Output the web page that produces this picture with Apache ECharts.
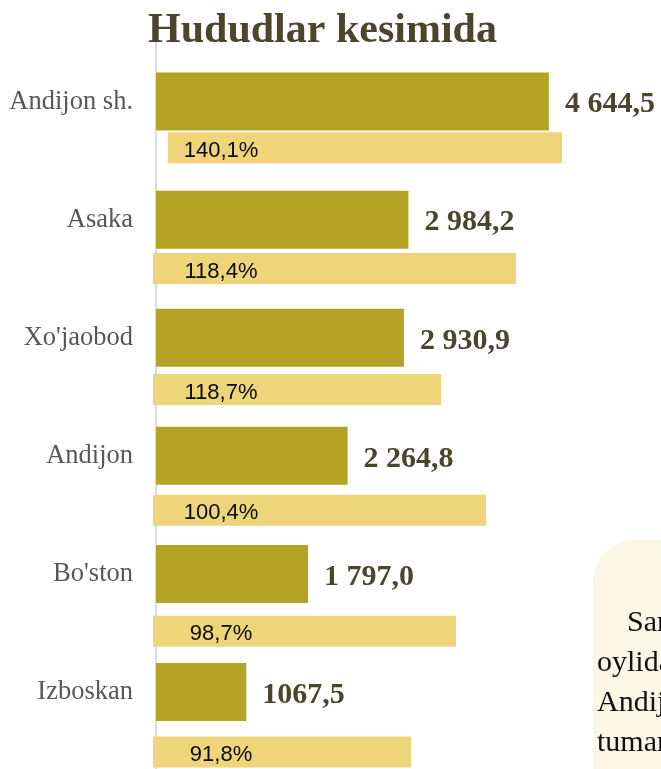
<!DOCTYPE html>
<html>
<head>
<meta charset="utf-8">
<title>Hududlar kesimida</title>
<script src="https://cdn.jsdelivr.net/npm/echarts@6/dist/echarts.min.js"></script>
<style>
  html, body { margin: 0; padding: 0; background: #fff; }
  #chart { width: 661px; height: 769px; }
</style>
</head>
<body>
<div id="chart"></div>
<script>
// hududlar bo'yicha qiymatlar
const regions = ['Andijon sh.', 'Asaka', "Xo'jaobod", 'Andijon', "Bo'ston", 'Izboskan'];
const values = [4644.5, 2984.2, 2930.9, 2264.8, 1797.0, 1067.5];
const valueLabels = ['4 644,5', '2 984,2', '2 930,9', '2 264,8', '1 797,0', '1067,5'];
// o'sish sur'ati (sariq chiziqlar)
const growthLabels = ['140,1%', '118,4%', '118,7%', '100,4%', '98,7%', '91,8%'];
const growthStart = [140, -35, -35, -35, -35, -35];
const growthEnd = [4799, 4255, 3369, 3901, 3546, 3014];

const serif = "'Liberation Serif', 'Times New Roman', serif";
const sans = "'Liberation Sans', Arial, sans-serif";

const chart = echarts.init(document.getElementById('chart'));

const axisLine = { show: true, onZero: true, lineStyle: { color: '#dcdcdc', width: 2 } };

chart.setOption({
  animation: false,
  title: {
    text: 'Hududlar kesimida',
    left: 143,
    top: 5,
    textStyle: { fontFamily: serif, fontWeight: 'bold', fontSize: 42, color: '#4b452c' }
  },
  grid: [
    { left: 156, width: 423, top: 42.5, height: 708.6, outerBoundsMode: 'none' },
    { left: 156, width: 423, top: 87.3, height: 725.2, outerBoundsMode: 'none' }
  ],
  xAxis: [
    { gridIndex: 0, type: 'value', min: 0, max: 5000, show: false },
    { gridIndex: 1, type: 'value', min: 0, max: 5000, show: false }
  ],
  yAxis: [
    {
      gridIndex: 0,
      type: 'category',
      inverse: true,
      data: regions,
      axisLine: axisLine,
      axisTick: { show: false },
      axisLabel: {
        margin: 23,
        padding: [10, 0, 0, 0],
        fontFamily: serif,
        fontSize: 26.5,
        color: '#575757'
      }
    },
    {
      gridIndex: 1,
      type: 'category',
      inverse: true,
      data: regions,
      axisLine: axisLine,
      axisTick: { show: false },
      axisLabel: { show: false }
    }
  ],
  graphic: [
    {
      type: 'rect',
      shape: { x: 593, y: 540, width: 140, height: 300, r: 42 },
      style: { fill: '#fbf6e5' },
      z: 0
    },
    {
      type: 'text',
      x: 597,
      y: 603,
      style: {
        text: '    Sanoat\noylida\nAndijon\ntumanlari',
        font: '30px ' + serif,
        lineHeight: 40,
        fill: '#111'
      }
    }
  ],
  series: [
    {
      type: 'custom',
      xAxisIndex: 1,
      yAxisIndex: 1,
      data: regions.map((r, i) => [growthStart[i], growthEnd[i], i]),
      encode: { x: [0, 1], y: 2 },
      renderItem: (params, api) => {
        const i = api.value(2);
        const s = api.coord([api.value(0), i]);
        const e = api.coord([api.value(1), i]);
        const zero = api.coord([0, i]);
        const h = 31;
        return {
          type: 'group',
          children: [
            {
              type: 'rect',
              shape: { x: s[0], y: s[1] - h / 2, width: e[0] - s[0], height: h },
              style: { fill: '#efd57a' }
            },
            {
              type: 'text',
              x: zero[0] + 65,
              y: s[1] + 3,
              style: {
                text: growthLabels[params.dataIndex],
                font: '22px ' + sans,
                fill: '#0a0a0a',
                align: 'center',
                verticalAlign: 'middle'
              }
            }
          ]
        };
      }
    },
    {
      type: 'bar',
      xAxisIndex: 0,
      yAxisIndex: 0,
      data: values,
      barWidth: 58,
      itemStyle: { color: '#b5a326' },
      label: {
        show: true,
        position: 'right',
        distance: 16,
        offset: [0, 3],
        formatter: p => valueLabels[p.dataIndex],
        fontFamily: serif,
        fontWeight: 'bold',
        fontSize: 30,
        color: '#4b452c'
      }
    }
  ]
});
</script>
</body>
</html>
